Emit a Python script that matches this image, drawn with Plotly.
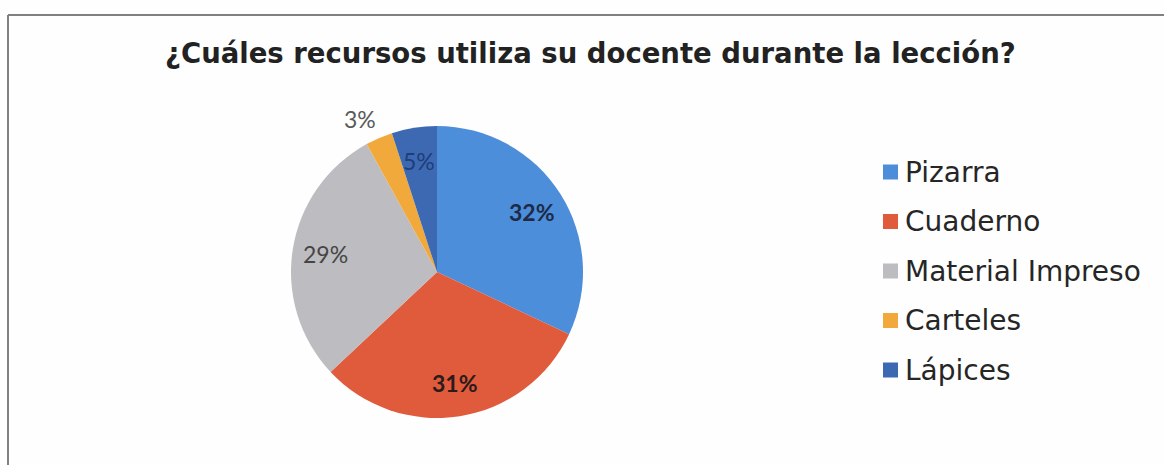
import math
import plotly.graph_objects as go

# Survey answers: resources the teacher uses during the lesson
categories = ["Pizarra", "Cuaderno", "Material Impreso", "Carteles", "Lápices"]
percentages = [32, 31, 29, 3, 5]

slice_colors = ["#4C8EDA", "#E05A3C", "#BDBDC1", "#F2A93B", "#3D69B3"]
label_colors = ["#1E2B48", "#2B1B1B", "#454545", "#5A5A5A", "#1F3D78"]
label_bold = [True, True, False, False, False]
label_outside = [False, False, False, True, False]

W, H = 1164, 465


def px_x(x):
    return x / W


def px_y(y):
    return 1 - y / H


# Pie placement in pixels
cx, cy, r = 437, 272, 146

fig = go.Figure()
fig.add_trace(go.Pie(
    labels=categories,
    values=percentages,
    sort=False,
    direction="clockwise",
    rotation=0,
    marker=dict(colors=slice_colors, line=dict(width=0)),
    textinfo="none",
    showlegend=False,
    domain=dict(x=[px_x(cx - r), px_x(cx + r)], y=[px_y(cy + r), px_y(cy - r)]),
    hoverinfo="label+percent",
))

annotations = [
    dict(
        text="<b>¿Cuáles recursos utiliza su docente durante la lección?</b>",
        x=px_x(590), y=px_y(53), xref="paper", yref="paper",
        xanchor="center", yanchor="middle", showarrow=False,
        font=dict(family="DejaVu Sans", size=27.5, color="#222222"),
    )
]

# Percentage labels placed along each slice's middle angle (clockwise from 12 o'clock)
total = sum(percentages)
cum = 0
for val, col, bold, outside in zip(percentages, label_colors, label_bold, label_outside):
    mid = 2 * math.pi * (cum + val / 2) / total
    cum += val
    txt = f"{val / total * 100:.0f}%"
    if bold:
        txt = f"<b>{txt}</b>"
    if outside:
        rr = r * 1.02
        ax, ay = cx + rr * math.sin(mid), cy - rr * math.cos(mid)
        xa, ya = ("right" if math.sin(mid) < 0 else "left"), "bottom"
    else:
        rr = r * 0.77
        ax, ay = cx + rr * math.sin(mid), cy - rr * math.cos(mid)
        xa, ya = "center", "middle"
    annotations.append(dict(
        text=txt, x=px_x(ax), y=px_y(ay), xref="paper", yref="paper",
        xanchor=xa, yanchor=ya, showarrow=False,
        font=dict(family="Lato", size=23, color=col),
    ))

shapes = [
    # chart frame (left and top edges visible)
    dict(type="line", xref="paper", yref="paper",
         x0=px_x(8), x1=px_x(8), y0=px_y(15), y1=-0.05,
         line=dict(color="#808080", width=2)),
    dict(type="line", xref="paper", yref="paper",
         x0=px_x(8), x1=1.05, y0=px_y(15), y1=px_y(15),
         line=dict(color="#808080", width=2)),
]

# Legend: colour square plus category name
leg_x, leg_y, leg_step, sq = 883, 172, 49.5, 15
for i, (name, col) in enumerate(zip(categories, slice_colors)):
    yy = leg_y + i * leg_step
    shapes.append(dict(
        type="rect", xref="paper", yref="paper",
        x0=px_x(leg_x), x1=px_x(leg_x + sq),
        y0=px_y(yy + sq / 2), y1=px_y(yy - sq / 2),
        fillcolor=col, line=dict(width=0),
    ))
    annotations.append(dict(
        text=name, x=px_x(leg_x + sq + 5), y=px_y(yy),
        xref="paper", yref="paper", xanchor="left", yanchor="middle",
        showarrow=False,
        font=dict(family="DejaVu Sans", size=28, color="#262626"),
    ))

fig.update_layout(
    width=W, height=H,
    margin=dict(l=0, r=0, t=0, b=0),
    paper_bgcolor="#FEFEFE",
    plot_bgcolor="#FEFEFE",
    annotations=annotations,
    shapes=shapes,
)

fig.write_html("out.html")
